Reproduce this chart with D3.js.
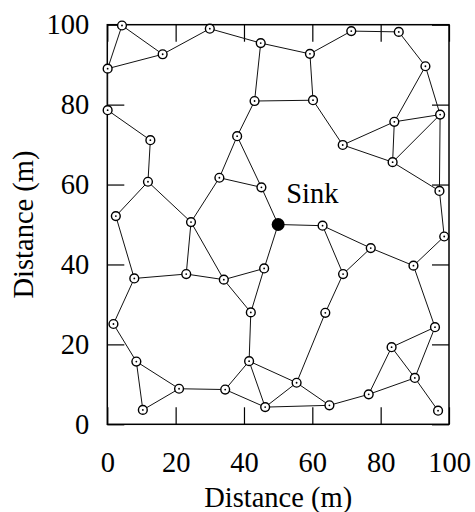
<!DOCTYPE html>
<html>
<head>
<meta charset="utf-8">
<script src="https://cdn.jsdelivr.net/npm/d3@7"></script>
<style>
  body { margin: 0; background: #fff; }
  text { font-family: "Liberation Serif", "Times New Roman", serif; fill: #000; font-weight: normal; }
</style>
</head>
<body>
<div id="chart"></div>
<script>
// sensor nodes (m)
const nodeIds = ['A','B','C','D','E','F','G','H','I','J','K','L','M','N','O','P','Q','R','S','T','U','V','W','X','Y','Z',
                 'a','b','c','d','e','f','g','h','i','j','k','l','m','n','o','p','q','r','s','t','u','v','w'];
const nodeX = [4.3, 0.1, 16.2, 30, 44.9, 0.1, 12.6, 43.1, 38.0, 71.4, 85.3, 59.3, 93.1, 60.2, 97.4, 84.0, 68.9,
               11.9, 32.8, 45.1, 2.5, 24.5, 45.9, 7.9, 23.1, 34.1,
               83.5, 97.2, 63.0, 98.6, 77.1, 89.6, 69.0, 1.8, 42.0, 8.5, 41.5, 21.0, 34.5, 10.4, 46.2,
               63.8, 95.9, 83.2, 55.4, 90.0, 76.5, 65.0, 96.8];
const nodeY = [99.8, 89, 92.6, 99, 95.4, 78.6, 71.1, 80.9, 72.1, 98.4, 98.2, 92.7, 89.6, 81.1, 77.5, 75.7, 69.9,
               60.7, 61.7, 59.3, 52.1, 50.6, 39.0, 36.5, 37.6, 36.2,
               65.6, 58.4, 49.7, 47.0, 44.1, 39.7, 37.6, 25.1, 28.0, 15.7, 15.8, 8.9, 8.7, 3.6, 4.3,
               27.9, 24.3, 19.3, 10.4, 11.6, 7.5, 4.75, 3.4];
const sink = {id: 'Sink', x: 50, y: 50};

const edgeList = [
  ['A','B'],['A','C'],['B','C'],['B','F'],['C','D'],['D','E'],['E','L'],['E','H'],['L','J'],['J','K'],
  ['K','M'],['M','O'],['M','P'],['P','O'],['P','Q'],['L','N'],['H','N'],['N','Q'],['P','a'],['O','a'],
  ['O','b'],['Q','a'],['a','b'],['b','d'],['d','f'],['e','f'],['c','e'],['c','g'],['g','e'],['Sink','c'],
  ['Sink','T'],['Sink','W'],['H','I'],['I','S'],['I','T'],['S','T'],['S','V'],['F','G'],['G','R'],['R','U'],
  ['R','V'],['U','X'],['V','Y'],['V','Z'],['X','Y'],['Y','Z'],['Z','W'],['W','i'],['Z','i'],['X','h'],
  ['h','j'],['j','n'],['j','l'],['n','l'],['l','m'],['i','k'],['m','k'],['m','o'],['k','o'],['k','s'],
  ['o','s'],['o','v'],['s','v'],['s','p'],['p','g'],['v','u'],['u','r'],['u','t'],['r','q'],['r','t'],
  ['t','q'],['t','w'],['q','f']
];

const xTicks = [0, 20, 40, 60, 80, 100];
const yTicks = [0, 20, 40, 60, 80, 100];
const xLabel = 'Distance (m)';
const yLabel = 'Distance (m)';

const width = 475, height = 512;
const margin = {left: 107.3, right: 26, top: 24.7, bottom: 87.7};
const fontSize = 28.5;

const svg = d3.select('#chart').append('svg')
    .attr('width', width)
    .attr('height', height);

const xScale = d3.scaleLinear().domain([0, 100]).range([margin.left, width - margin.right]);
const yScale = d3.scaleLinear().domain([0, 100]).range([height - margin.bottom, margin.top]);

const nodes = nodeIds.map((id, i) => ({id: id, x: nodeX[i], y: nodeY[i]}));
const byId = {};
nodes.forEach(d => { byId[d.id] = d; });
byId[sink.id] = sink;

// frame + inward ticks on all sides
const tick = 17;
const plotW = xScale(100) - xScale(0), plotH = yScale(0) - yScale(100);

svg.append('g')
    .attr('transform', `translate(0,${yScale(0)})`)
    .call(d3.axisBottom(xScale).tickValues(xTicks).tickSizeInner(-tick).tickSizeOuter(0).tickPadding(tick + 10))
    .call(g => g.select('.domain').remove())
    .call(g => g.selectAll('line').attr('stroke', '#000').attr('stroke-width', 1.2))
    .call(g => g.selectAll('text').attr('font-size', fontSize).attr('font-family', null));

svg.append('g')
    .attr('transform', `translate(0,${yScale(100)})`)
    .call(d3.axisTop(xScale).tickValues(xTicks).tickSizeInner(-tick).tickSizeOuter(0).tickFormat(''))
    .call(g => g.select('.domain').remove())
    .call(g => g.selectAll('line').attr('stroke', '#000').attr('stroke-width', 1.2));

svg.append('g')
    .attr('transform', `translate(${xScale(0)},0)`)
    .call(d3.axisLeft(yScale).tickValues(yTicks).tickSizeInner(-tick).tickSizeOuter(0).tickPadding(tick + 1))
    .call(g => g.select('.domain').remove())
    .call(g => g.selectAll('line').attr('stroke', '#000').attr('stroke-width', 1.2))
    .call(g => g.selectAll('text').attr('font-size', fontSize).attr('font-family', null));

svg.append('g')
    .attr('transform', `translate(${xScale(100)},0)`)
    .call(d3.axisRight(yScale).tickValues(yTicks).tickSizeInner(-tick).tickSizeOuter(0).tickFormat(''))
    .call(g => g.select('.domain').remove())
    .call(g => g.selectAll('line').attr('stroke', '#000').attr('stroke-width', 1.2));

svg.append('rect')
    .attr('x', xScale(0)).attr('y', yScale(100))
    .attr('width', plotW).attr('height', plotH)
    .attr('fill', 'none').attr('stroke', '#000').attr('stroke-width', 1.5);

// links
svg.append('g').selectAll('line')
    .data(edgeList)
    .join('line')
    .attr('x1', d => xScale(byId[d[0]].x))
    .attr('y1', d => yScale(byId[d[0]].y))
    .attr('x2', d => xScale(byId[d[1]].x))
    .attr('y2', d => yScale(byId[d[1]].y))
    .attr('stroke', '#111')
    .attr('stroke-width', 1);

// nodes
const nodeG = svg.append('g').selectAll('g')
    .data(nodes)
    .join('g')
    .attr('transform', d => `translate(${xScale(d.x)},${yScale(d.y)})`);
nodeG.append('circle')
    .attr('r', 4.4)
    .attr('fill', '#fff')
    .attr('stroke', '#000')
    .attr('stroke-width', 1.4);
nodeG.append('circle')
    .attr('r', 0.9)
    .attr('fill', '#000');

// sink
svg.append('circle')
    .attr('cx', xScale(sink.x)).attr('cy', yScale(sink.y))
    .attr('r', 6.5)
    .attr('fill', '#000');
svg.append('text')
    .attr('x', xScale(sink.x) + 8)
    .attr('y', yScale(sink.y) - 22)
    .attr('font-size', fontSize)
    .text(sink.id);

// axis titles
svg.append('text')
    .attr('x', (xScale(0) + xScale(100)) / 2)
    .attr('y', 507)
    .attr('text-anchor', 'middle')
    .attr('font-size', fontSize)
    .text(xLabel);
svg.append('text')
    .attr('transform', `translate(33,${(yScale(0) + yScale(100)) / 2}) rotate(-90)`)
    .attr('text-anchor', 'middle')
    .attr('font-size', fontSize)
    .text(yLabel);
</script>
</body>
</html>
